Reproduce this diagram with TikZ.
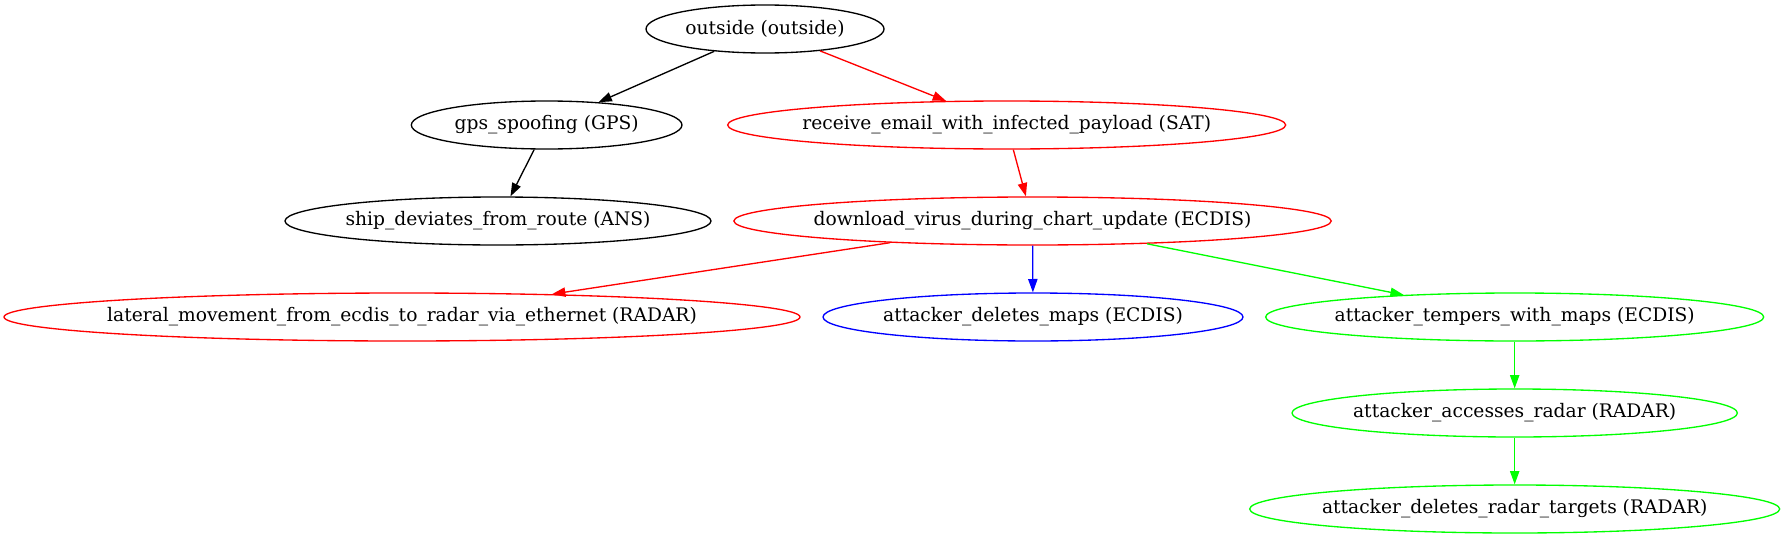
\documentclass[tikz,border=0pt]{standalone}
\usepackage{fontspec}
\setmainfont{DejaVu Serif}
\usepackage{xcolor}
\usepackage{tikz}
\usetikzlibrary{shapes.geometric, arrows.meta}

\definecolor{gvred}{HTML}{FF0000}
\definecolor{gvblue}{HTML}{0000FF}
\definecolor{gvgreen}{HTML}{00FF00}

% keep the label from widening the ellipse
\newcommand{\gvtext}[1]{\makebox[0pt]{#1}}

\begin{document}
\begin{tikzpicture}[
    x=1pt, y=-1pt,
    every node/.style={font=\fontsize{14}{16}\selectfont},
    attack/.style={ellipse, draw=#1, line width=1pt, minimum height=36pt, inner sep=0pt},
    attack/.default=black,
    arrow/.style={-{Triangle[length=10pt, width=7pt]}, #1, line width=1pt}
]

\useasboundingbox (0,0) rectangle (1338.75,404.25);

% Rank 1 and 2
\node[attack, minimum width=178.5pt] (outside) at (573.75,21.75) {\gvtext{outside (outside)}};
\node[attack, minimum width=203pt] (gps) at (410,93.75) {\gvtext{gps\_spoofing (GPS)}};
\node[attack=gvred, minimum width=418.5pt] (email) at (755,93.75) {\gvtext{receive\_email\_with\_infected\_payload (SAT)}};

% Rank 3
\node[attack, minimum width=319.5pt] (ship) at (373.5,165.75) {\gvtext{ship\_deviates\_from\_route (ANS)}};
\node[attack=gvred, minimum width=448pt] (virus) at (774.4,165.75) {\gvtext{download\_virus\_during\_chart\_update (ECDIS)}};

% Rank 4
\node[attack=gvred, minimum width=597pt] (lateral) at (301.5,237.75) {\gvtext{lateral\_movement\_from\_ecdis\_to\_radar\_via\_ethernet (RADAR)}};
\node[attack=gvblue, minimum width=315pt] (delmaps) at (774.75,237.75) {\gvtext{attacker\_deletes\_maps (ECDIS)}};
\node[attack=gvgreen, minimum width=373.5pt] (tempmaps) at (1136,237.75) {\gvtext{attacker\_tempers\_with\_maps (ECDIS)}};

% Rank 5 and 6
\node[attack=gvgreen, minimum width=334pt] (radar) at (1136,309.75) {\gvtext{attacker\_accesses\_radar (RADAR)}};
\node[attack=gvgreen, minimum width=397.5pt] (targets) at (1136,381.75) {\gvtext{attacker\_deletes\_radar\_targets (RADAR)}};

% Edges
\foreach \from/\to/\col in {outside/gps/black, outside/email/gvred, gps/ship/black,
    email/virus/gvred, virus/lateral/gvred, virus/delmaps/gvblue,
    virus/tempmaps/gvgreen, tempmaps/radar/gvgreen, radar/targets/gvgreen} {
    \draw[arrow=\col] (\from) -- (\to);
}

\end{tikzpicture}
\end{document}
